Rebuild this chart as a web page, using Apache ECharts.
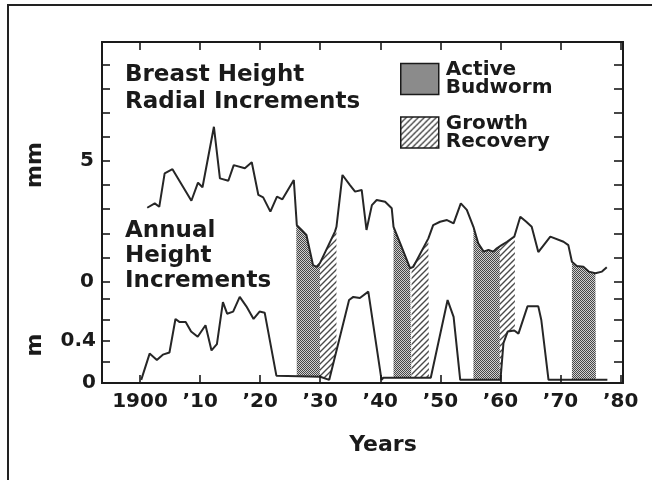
<!DOCTYPE html>
<html><head><meta charset="utf-8">
<script src="https://cdn.jsdelivr.net/npm/echarts@6/dist/echarts.min.js"></script>
<style>html,body{margin:0;padding:0;background:#fff;}#c{width:652px;height:480px;}</style>
</head><body><div id="c"></div>
<script>
// Breast height radial increments (mm)
const radialYears = [1901.2,1902.45,1903.2,1904.1,1905.4,1908.55,1909.65,1910.4,1912.3,1913.3,1914.7,1915.6,1917.45,1918.6,1919.7,1920.5,1921.7,1922.8,1923.7,1925.6,1926.1,1926.9,1927.7,1928.8,1929.4,1929.95,1932.45,1932.7,1933.7,1934.95,1935.8,1936.9,1937.7,1938.6,1939.4,1940.8,1941.9,1942.2,1943.3,1944.95,1945.5,1948.0,1948.8,1949.95,1951.1,1952.2,1953.4,1954.4,1955.5,1956.3,1957.2,1958.0,1958.8,1959.4,1960.2,1961.1,1962.3,1963.3,1964.3,1965.2,1966.3,1968.3,1970.5,1971.3,1971.9,1972.7,1973.8,1974.7,1975.8,1976.9,1977.7];
const radialMM = [3.06,3.24,3.10,4.49,4.66,3.35,4.10,3.91,6.42,4.28,4.18,4.83,4.70,4.95,3.59,3.49,2.90,3.52,3.41,4.21,2.34,2.14,1.93,0.68,0.61,0.76,2.07,2.27,4.42,4.00,3.73,3.80,2.14,3.17,3.38,3.31,3.04,2.27,1.59,0.55,0.61,1.79,2.34,2.48,2.55,2.41,3.24,2.97,2.27,1.59,1.24,1.31,1.24,1.38,1.51,1.65,1.86,2.69,2.48,2.27,1.22,1.86,1.65,1.51,0.82,0.64,0.61,0.41,0.34,0.41,0.59];
// Annual height increments (m)
const heightYears = [1900.2,1901.6,1902.8,1903.8,1904.9,1905.9,1906.6,1907.6,1908.5,1909.6,1910.9,1911.9,1912.8,1913.8,1914.5,1915.5,1916.6,1917.7,1918.9,1919.9,1920.75,1922.7,1923.0,1930.0,1931.5,1934.8,1935.5,1936.6,1938.0,1940.2,1940.5,1948.4,1951.2,1952.2,1953.3,1960.0,1960.5,1961.2,1962.3,1963.0,1964.5,1966.3,1966.8,1968.0,1977.8];
const heightM = [0.03,0.28,0.22,0.27,0.29,0.61,0.58,0.58,0.49,0.44,0.55,0.31,0.37,0.77,0.66,0.68,0.82,0.73,0.61,0.68,0.67,0.07,0.06,0.06,0.03,0.79,0.82,0.81,0.87,0.03,0.05,0.05,0.79,0.63,0.03,0.03,0.38,0.49,0.50,0.47,0.73,0.73,0.60,0.03,0.03];
// Shaded periods
const budwormPeriods = [[1926.0,1929.95],[1942.2,1945.2],[1955.5,1959.9],[1971.9,1975.9]];
const recoveryPeriods = [[1929.95,1932.7],[1945.2,1948.1],[1959.9,1962.4]];
// Ticks and labels
const xTickValues = [1900,1910,1920,1930,1940,1950,1960,1970,1980];
const xTickLabels = ['1900','\u201910','\u201920','\u201930','\u201940','\u201950','\u201960','\u201970','\u201980'];
const mmTickValues = [0,1,2,3,4,5,6,7,8,9];
const mmLabelValues = [0,5];
const mTickValues = [0.2,0.4,0.6,0.8];
const mLabelValues = [0,0.4];

const FONT = "'DejaVu Sans'";
const INK = '#1a1a1a';

function interp(xs, ys, x){
  for (let i=0;i<xs.length-1;i++){
    if (x>=xs[i] && x<=xs[i+1]){const t=(x-xs[i])/(xs[i+1]-xs[i]);return ys[i]+t*(ys[i+1]-ys[i]);}
  }
  return null;
}
function periodData(periods){
  const out=[];
  periods.forEach(([s,e],k)=>{
    if(k>0) out.push([s-0.001,'-']);
    out.push([s,interp(radialYears,radialMM,s)]);
    radialYears.forEach((y,i)=>{ if(y>s && y<e) out.push([y,radialMM[i]]); });
    out.push([e,interp(radialYears,radialMM,e)]);
  });
  return out;
}
function stipple(){
  const c=document.createElement('canvas');c.width=2;c.height=2;const g=c.getContext('2d');
  g.fillStyle='#d0d0d0';g.fillRect(0,0,2,2);
  g.fillStyle='#474747';g.fillRect(0,0,1,1);g.fillRect(1,1,1,1);
  return {image:c,repeat:'repeat'};
}
function hatch(){
  const c=document.createElement('canvas');c.width=6;c.height=6;const g=c.getContext('2d');
  g.fillStyle='#ffffff';g.fillRect(0,0,6,6);
  g.strokeStyle='#4a4a4a';g.lineWidth=1.4;g.beginPath();
  g.moveTo(-1,7);g.lineTo(7,-1);g.moveTo(-1,1);g.lineTo(1,-1);g.moveTo(5,7);g.lineTo(7,5);g.stroke();
  return {image:c,repeat:'repeat'};
}
const stip=stipple(), hat=hatch();

const chart = echarts.init(document.getElementById('c'), null, {renderer:'canvas'});
const axisLine = {show:true,onZero:false,lineStyle:{color:INK,width:2}};
const tickStyle = {color:INK,width:1.6};
const labelStyle = {fontFamily:FONT,fontWeight:'bold',fontSize:20,color:INK};
const XMIN=1893.67, XMAX=1980.4, MMMIN=-4.212, MMMAX=9.938, MMAX=3.2476;

chart.setOption({
  animation:false,
  backgroundColor:'#ffffff',
  grid:{left:102,right:29,top:42,bottom:97},
  legend:{
    orient:'vertical',left:395,top:52,itemWidth:38,itemHeight:31,itemGap:9.5,icon:'rect',
    formatter:n=>n.replace(' ','\n'),
    textStyle:{fontFamily:FONT,fontWeight:'bold',fontSize:20,lineHeight:18,color:INK,padding:[8,0,0,2]},
    data:[
      {name:'Active Budworm',itemStyle:{color:stip,borderColor:INK,borderWidth:1.5}},
      {name:'Growth Recovery',itemStyle:{color:hat,borderColor:INK,borderWidth:1.5}}
    ]
  },
  xAxis:[
    {type:'value',position:'bottom',min:XMIN,max:XMAX,z:10,axisLine,
     axisTick:{show:true,inside:true,length:8,lineStyle:tickStyle,customValues:xTickValues},
     axisLabel:Object.assign({margin:9,customValues:xTickValues,formatter:v=>xTickLabels[xTickValues.indexOf(Math.round(v))]},labelStyle),
     splitLine:{show:false}},
    {type:'value',position:'top',min:XMIN,max:XMAX,z:10,axisLine,
     axisTick:{show:true,inside:true,length:8,lineStyle:tickStyle,customValues:xTickValues},
     axisLabel:{show:false},splitLine:{show:false}}
  ],
  yAxis:[
    {type:'value',position:'left',min:MMMIN,max:MMMAX,z:10,axisLine,
     axisTick:{show:true,inside:true,length:8,lineStyle:tickStyle,customValues:mmTickValues},
     axisLabel:Object.assign({margin:8,customValues:mmLabelValues,formatter:v=>String(v)},labelStyle),
     splitLine:{show:false}},
    {type:'value',position:'left',min:0,max:MMAX,z:10,axisLine,
     axisTick:{show:true,inside:true,length:8,lineStyle:tickStyle,customValues:mTickValues},
     axisLabel:Object.assign({margin:6,padding:[8,0,0,0],customValues:mLabelValues,formatter:v=>String(v)},labelStyle),
     splitLine:{show:false}},
    {type:'value',position:'right',min:MMMIN,max:MMMAX,z:10,axisLine,
     axisTick:{show:true,inside:true,length:9,lineStyle:tickStyle,customValues:mmTickValues},
     axisLabel:{show:false},splitLine:{show:false}},
    {type:'value',position:'right',min:0,max:MMAX,z:10,axisLine,
     axisTick:{show:true,inside:true,length:9,lineStyle:tickStyle,customValues:mTickValues},
     axisLabel:{show:false},splitLine:{show:false}}
  ],
  series:[
    {name:'Active Budworm',type:'line',xAxisIndex:0,yAxisIndex:0,data:periodData(budwormPeriods),
     showSymbol:false,symbol:'none',silent:true,z:2,connectNulls:false,
     itemStyle:{color:stip},lineStyle:{width:0,color:'#333'},areaStyle:{color:stip,opacity:1,origin:'start'}},
    {name:'Growth Recovery',type:'line',xAxisIndex:0,yAxisIndex:0,data:periodData(recoveryPeriods),
     showSymbol:false,symbol:'none',silent:true,z:2,connectNulls:false,
     itemStyle:{color:hat},lineStyle:{width:0,color:'#333'},areaStyle:{color:hat,opacity:1,origin:'start'}},
    {name:'Annual Height Increments',type:'line',xAxisIndex:0,yAxisIndex:1,
     data:heightYears.map((y,i)=>[y,heightM[i]]),showSymbol:false,symbol:'none',silent:true,z:3,
     lineStyle:{color:'#262626',width:2},areaStyle:{color:'#ffffff',opacity:1,origin:'start'}},
    {name:'Breast Height Radial Increments',type:'line',xAxisIndex:0,yAxisIndex:0,
     data:radialYears.map((y,i)=>[y,radialMM[i]]),showSymbol:false,symbol:'none',silent:true,z:4,
     lineStyle:{color:'#262626',width:2}}
  ],
  graphic:[
    {type:'polyline',z:20,shape:{points:[[8,480],[8,5],[652,5]]},style:{stroke:'#222',lineWidth:2,fill:null}},
    {type:'text',z:20,x:125,y:62,style:{text:'Breast Height\nRadial Increments',font:"bold 23px 'DejaVu Sans'",lineHeight:27,fill:INK}},
    {type:'text',z:20,x:125,y:219,style:{text:'Annual\nHeight\nIncrements',font:"bold 23px 'DejaVu Sans'",lineHeight:25,fill:INK}},
    {type:'text',z:20,x:35,y:165,rotation:Math.PI/2,style:{text:'mm',font:"bold 22px 'DejaVu Sans'",fill:INK,align:'center',verticalAlign:'middle'}},
    {type:'text',z:20,x:35,y:345,rotation:Math.PI/2,style:{text:'m',font:"bold 22px 'DejaVu Sans'",fill:INK,align:'center',verticalAlign:'middle'}},
    {type:'text',z:20,x:383,y:445,style:{text:'Years',font:"bold 22px 'DejaVu Sans'",fill:INK,align:'center',verticalAlign:'middle'}}
  ]
});
</script></body></html>
